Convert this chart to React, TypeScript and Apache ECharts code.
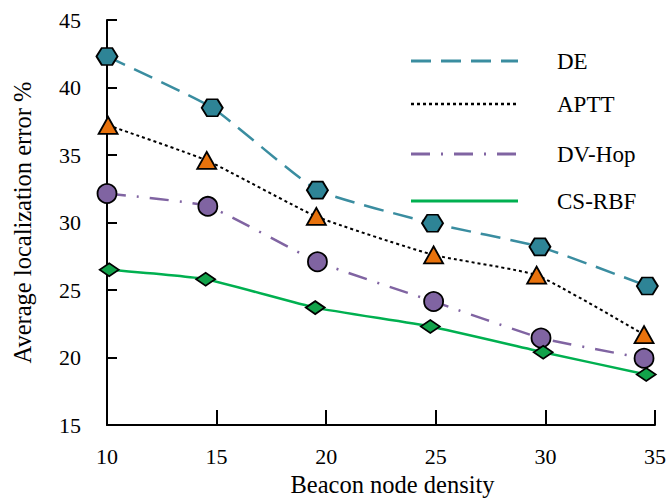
import React, { useEffect, useRef } from "react";
import * as echarts from "echarts";

const seriesNames = ["DE", "APTT", "DV-Hop", "CS-RBF"];
const deX = [10, 14.8, 19.6, 24.85, 29.75, 34.65];
const deY = [42.3, 38.5, 32.4, 29.95, 28.2, 25.3];
const apttX = [10.05, 14.55, 19.55, 24.9, 29.6, 34.5];
const apttY = [37.2, 34.6, 30.45, 27.6, 26.1, 21.7];
const dvX = [10, 14.6, 19.6, 24.9, 29.8, 34.5];
const dvY = [32.15, 31.2, 27.1, 24.15, 21.45, 19.95];
const csX = [10.1, 14.5, 19.5, 24.75, 29.9, 34.6];
const csY = [26.5, 25.8, 23.7, 22.3, 20.4, 18.75];

const xTicks = [10, 15, 20, 25, 30, 35];
const yTicks = [15, 20, 25, 30, 35, 40, 45];

const FONT = "'Liberation Serif', 'Times New Roman', serif";

const pair = (xs: number[], ys: number[]) => xs.map((x, i) => [x, ys[i]]);

const HEX = "path://M0,5 L3,0 L9,0 L12,5 L9,10 L3,10 Z";

export default function App() {
  const ref = useRef<HTMLDivElement>(null);
  useEffect(() => {
    if (!ref.current) return;
    const chart = echarts.init(ref.current, null, { renderer: "svg" });
    const styles = [
      { color: "#3A8DA0", fill: "#2E8496", dash: [20, 10], width: 2.5, symbol: HEX, size: [21, 17] },
      { color: "#000000", fill: "#E8720C", dash: [3, 3], width: 2, symbol: "triangle", size: [19, 17] },
      { color: "#8064A2", fill: "#8064A2", dash: [19, 11, 2, 11], width: 2.5, symbol: "circle", size: 19 },
      { color: "#00B050", fill: "#12A24A", dash: "solid", width: 2.5, symbol: "diamond", size: [19, 13] },
    ];
    const datas = [pair(deX, deY), pair(apttX, apttY), pair(dvX, dvY), pair(csX, csY)];
    const legendY = [61, 104, 154, 201];
    const graphics: any[] = [];
    seriesNames.forEach((n, i) => {
      const s = styles[i];
      graphics.push({
        type: "line",
        shape: { x1: 411, y1: legendY[i], x2: 518, y2: legendY[i] },
        style: { stroke: s.color, lineWidth: s.width + 0.5, lineDash: s.dash === "solid" ? null : s.dash },
      });
      graphics.push({
        type: "text",
        x: 557,
        y: legendY[i],
        style: { text: n, fontFamily: FONT, fontSize: 23, fill: "#000", verticalAlign: "middle", align: "left" },
      });
    });
    chart.setOption({
      animation: false,
      backgroundColor: "#fff",
      textStyle: { fontFamily: FONT },
      grid: { left: 107, right: 8, top: 20, bottom: 75 },
      xAxis: {
        type: "value",
        min: 10,
        max: 35,
        interval: 5,
        name: "Beacon node density",
        nameLocation: "middle",
        nameGap: 46,
        nameTextStyle: { fontFamily: FONT, fontSize: 24.5, color: "#000", padding: [0, 0, 0, 23] },
        axisLine: { lineStyle: { color: "#000", width: 2 } },
        axisTick: { inside: true, length: 15, lineStyle: { color: "#000", width: 2 } },
        axisLabel: {
          fontFamily: FONT, fontSize: 22, color: "#000", margin: 20,
          formatter: (v: number) => (xTicks.includes(v) ? String(v) : ""),
        },
        splitLine: { show: false },
      },
      yAxis: {
        type: "value",
        min: 15,
        max: 45,
        interval: 5,
        name: "Average localization error %",
        nameLocation: "middle",
        nameGap: 72,
        nameTextStyle: { fontFamily: FONT, fontSize: 24.5, color: "#000" },
        axisLine: { show: true, lineStyle: { color: "#000", width: 2 } },
        axisTick: { show: true, inside: true, length: 10, lineStyle: { color: "#000", width: 2 } },
        axisLabel: {
          fontFamily: FONT, fontSize: 22, color: "#000", margin: 26,
          formatter: (v: number) => (yTicks.includes(v) ? String(v) : ""),
        },
        splitLine: { show: false },
      },
      graphic: graphics,
      series: seriesNames.map((n, i) => ({
        name: n,
        type: "line",
        data: datas[i],
        clip: false,
        smooth: 0.15,
        symbol: styles[i].symbol,
        symbolSize: styles[i].size,
        lineStyle: { color: styles[i].color, width: styles[i].width, type: styles[i].dash },
        itemStyle: { color: styles[i].fill, borderColor: "#000", borderWidth: 1.8 },
        z: 3 + i,
      })),
    });
    return () => chart.dispose();
  }, []);
  return <div ref={ref} style={{ width: 669, height: 502, position: "absolute", left: 0, top: 0 }} />;
}
